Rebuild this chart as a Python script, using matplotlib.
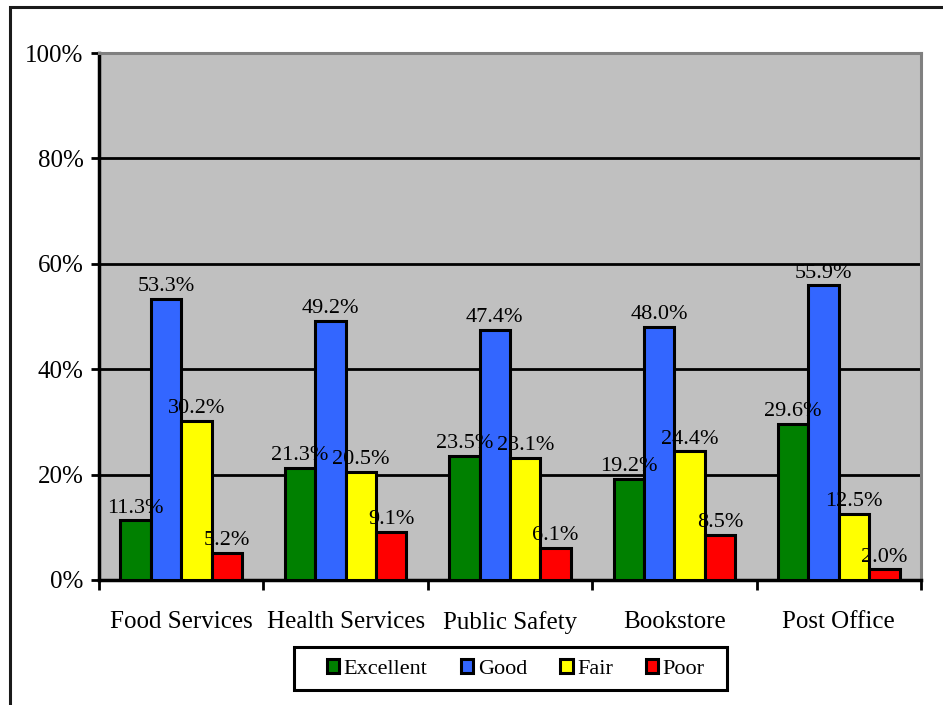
import matplotlib
matplotlib.use("Agg")
import matplotlib.pyplot as plt
import numpy as np
from matplotlib.patches import Rectangle

# ── Data ───────────────────────────────────────────────────────────────────────
categories = ["Food Services", "Health Services", "Public Safety", "Bookstore", "Post Office"]
series     = ["Excellent", "Good", "Fair", "Poor"]
excellent  = [11.3, 21.3, 23.5, 19.2, 29.6]
good       = [53.3, 49.2, 47.4, 48.0, 55.9]
fair       = [30.2, 20.5, 23.1, 24.4, 12.5]
poor       = [5.2, 9.1, 6.1, 8.5, 2.0]
y_ticks    = [0, 20, 40, 60, 80, 100]

colors = ["#008000", "#3366FF", "#FFFF00", "#FF0000"]
values = [excellent, good, fair, poor]

plt.rcParams["font.family"] = ["Liberation Serif", "DejaVu Serif"]

W, H = 943, 705
fig = plt.figure(figsize=(W / 100, H / 100), dpi=100)
ax = fig.add_axes([99 / W, 1 - 580 / H, 822 / W, 527 / H])
ax.set_facecolor("#C0C0C0")

# outer chart border (left + top visible, rest cropped)
fig.patches.append(Rectangle((10 / W, -0.1), 1.2, 1 - 7 / H + 0.1,
                             transform=fig.transFigure, fill=False,
                             edgecolor="#1a1a1a", linewidth=2.2))

# ── Bars ───────────────────────────────────────────────────────────────────────
x = np.arange(len(categories))
bw = 0.185
for i, (name, vals, c) in enumerate(zip(series, values, colors)):
    pos = x + (i - 1.5) * bw
    ax.bar(pos, vals, width=bw, color=c, edgecolor="black", linewidth=2.2,
           label=name, zorder=3)
    for px, v in zip(pos, vals):
        ax.annotate(f"{v:.1f}%", (px, v), xytext=(0, 2), textcoords="offset points",
                    ha="center", va="bottom", fontsize=16, zorder=4)

# ── Axes styling ───────────────────────────────────────────────────────────────
ax.set_xlim(-0.5, len(categories) - 0.5)
ax.set_ylim(0, 100)
ax.set_yticks(y_ticks)
ax.set_yticklabels([f"{t}%" for t in y_ticks], fontsize=18)
for t in y_ticks[1:-1]:
    ax.axhline(t, color="black", linewidth=2.0, zorder=1)

ax.set_xticks(x)
ax.set_xticklabels(categories, fontsize=18)
ax.tick_params(axis="x", length=0, pad=22)
ax.set_xticks(np.arange(len(categories) + 1) - 0.5, minor=True)
ax.tick_params(axis="x", which="minor", length=7, width=2, direction="out")
ax.tick_params(axis="y", length=6, width=2, direction="out", pad=5)

for s in ("left", "bottom"):
    ax.spines[s].set_linewidth(2.5)
    ax.spines[s].set_color("black")
for s in ("top", "right"):
    ax.spines[s].set_linewidth(2.2)
    ax.spines[s].set_color("#808080")

# ── Legend (box drawn separately for the wide padding) ─────────────────────────
fig.patches.append(Rectangle((294 / W, 1 - 690 / H), 433 / W, 43 / H,
                             transform=fig.transFigure, fill=True,
                             facecolor="white", edgecolor="black", linewidth=2.2,
                             zorder=5))
leg = fig.legend(loc="center", bbox_to_anchor=(516 / W, 1 - 669 / H),
                 ncol=4, fontsize=16, frameon=False,
                 handlelength=0.55, handleheight=0.55, handletextpad=0.2,
                 columnspacing=1.5, borderpad=0.2)
leg.set_zorder(6)

fig.savefig("out.png", dpi=100)
